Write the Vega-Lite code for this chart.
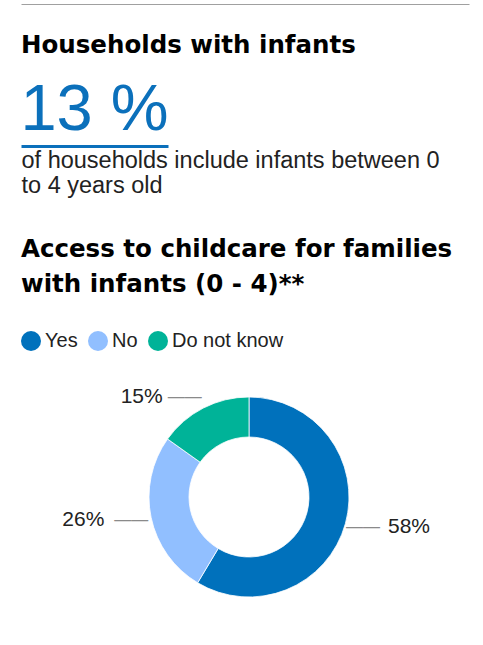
{
  "$schema": "https://vega.github.io/schema/vega-lite/v6.json",
  "padding": {"left": 20, "top": 4, "right": 0, "bottom": 0},
  "background": "#ffffff",
  "spacing": 39,
  "resolve": {"scale": {"color": "independent"}, "legend": {"color": "independent"}},
  "config": {
    "view": {"stroke": null},
    "font": "Liberation Sans",
    "title": {"anchor": "start", "frame": "group", "font": "DejaVu Sans", "fontWeight": "bold", "fontSize": 24.5, "color": "#000000"}
  },
  "vconcat": [
    {
      "spacing": 26,
      "vconcat": [
        {
          "width": 448,
          "height": 1,
          "data": {"values": [{"section": "divider"}]},
          "mark": {"type": "text", "text": "", "fontSize": 1, "baseline": "top"},
          "encoding": {
            "x": {
              "field": "section", "type": "nominal",
              "axis": {"orient": "top", "labels": false, "ticks": false, "tickSize": 0, "labelPadding": 0, "domain": true, "domainColor": "#a0a0a0", "domainWidth": 1, "title": null}
            }
          }
        },
        {
          "width": 147,
          "height": 72,
          "title": {"text": "Households with infants", "offset": 16},
          "data": {"values": [{"indicator": "Households with infants", "share": "13 %"}]},
          "mark": {"type": "text", "fontSize": 65, "font": "Liberation Sans", "color": "#0b70bb", "baseline": "middle", "align": "center"},
          "encoding": {
            "x": {
              "field": "indicator", "type": "nominal",
              "scale": {"paddingInner": 0, "paddingOuter": 0},
              "axis": {
                "labels": false, "ticks": false, "domain": true, "domainColor": "#0b70bb", "domainWidth": 3,
                "title": ["of households include infants between 0", "to 4 years old"],
                "titleAnchor": "start", "titleAlign": "left", "titleBaseline": "top",
                "titlePadding": 2, "titleFontSize": 23.5, "titleFontWeight": "normal", "titleColor": "#222222",
                "titleLineHeight": 25, "titleFont": "Liberation Sans"
              }
            },
            "text": {"field": "share", "type": "nominal"}
          }
        }
      ]
    },
    {
      "width": 456,
      "height": 252,
      "title": {"text": ["Access to childcare for families", "with infants (0 - 4)**"], "lineHeight": 35, "offset": 34},
      "data": {"values": [
        {"category": "Yes", "share": 0.58},
        {"category": "No", "share": 0.26},
        {"category": "Do not know", "share": 0.15}
      ]},
      "encoding": {
        "theta": {"field": "share", "type": "quantitative", "stack": true},
        "order": {"field": "share", "sort": "descending"}
      },
      "layer": [
        {
          "mark": {"type": "arc", "innerRadius": 60, "outerRadius": 100, "stroke": "#ffffff", "strokeWidth": 0.8},
          "encoding": {
            "color": {
              "field": "category", "type": "nominal",
              "scale": {"domain": ["Yes", "No", "Do not know"], "range": ["#0071bc", "#91bfff", "#00b398"]},
              "legend": {
                "orient": "top", "direction": "horizontal", "title": null, "offset": 20,
                "symbolType": "circle", "symbolSize": 400, "symbolStrokeWidth": 0,
                "labelFontSize": 20, "labelFont": "Liberation Sans", "labelColor": "#222222",
                "labelOffset": 4, "columnPadding": 10
              }
            }
          }
        },
        {
          "mark": {"type": "text", "text": "——", "radius": 112, "fontSize": 17, "color": "#8a8a8a", "baseline": "middle",
            "align": {"expr": "datum.category === 'Yes' ? 'left' : 'right'"},
            "dx": {"expr": "datum.category === 'Yes' ? -11 : (datum.category === 'No' ? 9 : 4)"}},
          "encoding": {"detail": {"field": "category"}}
        },
        {
          "mark": {"type": "text", "radius": 112, "fontSize": 21, "font": "Liberation Sans", "color": "#222222", "baseline": "middle",
            "align": {"expr": "datum.category === 'Yes' ? 'left' : 'right'"},
            "dx": {"expr": "datum.category === 'Yes' ? 31 : -35"}},
          "encoding": {
            "detail": {"field": "category"},
            "text": {"field": "share", "type": "quantitative", "format": ".0%"}
          }
        }
      ]
    }
  ]
}
